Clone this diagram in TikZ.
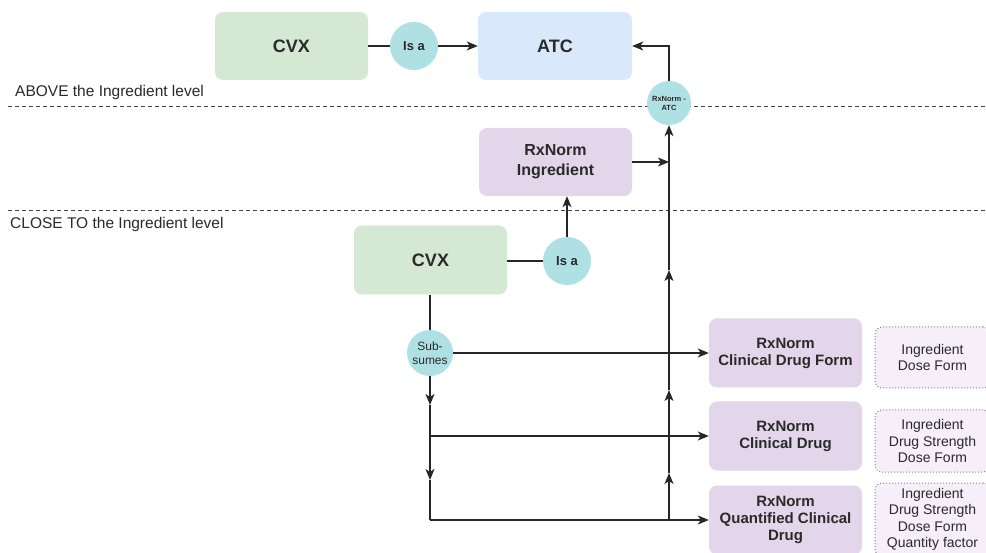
\documentclass[tikz,border=0pt]{standalone}
\usepackage{fontspec}
\setmainfont{Liberation Sans}
\usetikzlibrary{arrows.meta}
\definecolor{gfill}{HTML}{D5E8D4}
\definecolor{bfill}{HTML}{DAE8FC}
\definecolor{pfill}{HTML}{E3D6EA}
\definecolor{cfill}{HTML}{AFE0E4}
\definecolor{dfill}{HTML}{F6EEF9}
\definecolor{dline}{HTML}{8E8294}
\definecolor{txt}{HTML}{2A2A2A}
\tikzset{
  box/.style={rounded corners=8pt, minimum width=153pt, minimum height=68pt, inner sep=0pt, align=center, text=txt, font=\fontsize{15}{17}\selectfont\bfseries},
  bigbox/.style={box, font=\fontsize{18}{20}\selectfont\bfseries},
  circ/.style={circle, fill=cfill, inner sep=0pt, align=center, text=txt},
  attr/.style={rounded corners=7pt, draw=dline, dotted, line width=1pt, fill=dfill, minimum width=115pt, inner sep=0pt, align=center, text=txt, font=\fontsize{14}{16.5}\selectfont},
  conn/.style={line width=1.3pt, draw=black!85},
  arr/.style={conn, -{Stealth[length=11pt,width=9pt,inset=3pt]}},
  level/.style={dashed, dash pattern=on 4pt off 3pt, line width=0.9pt, draw=black!75},
  lbl/.style={anchor=west, inner sep=0pt, text=txt, font=\fontsize{15.5}{17}\selectfont}
}
\begin{document}
\begin{tikzpicture}[x=1pt,y=-1pt]
\clip (0,0) rectangle (986,553);
\fill[white] (0,0) rectangle (986,553);
% level lines
\coordinate (la1) at (8,106);
\coordinate (la2) at (986,106);
\coordinate (lb1) at (8,210);
\coordinate (lb2) at (986,210);
\draw[level] (la1) -- (la2);
\draw[level] (lb1) -- (lb2);
\node[lbl] (above) at (15,92) {ABOVE the Ingredient level};
\node[lbl] (close) at (10,224) {CLOSE TO the Ingredient level};
% top row
\node[bigbox, fill=gfill] (cvx1) at (291.5,46) {CVX};
\node[circ, minimum size=48pt, font=\fontsize{13}{15}\selectfont\bfseries] (isa1) at (414,46) {Is a};
\node[bigbox, fill=bfill, minimum width=154pt] (atc) at (555,46) {ATC};
\node[circ, minimum size=44pt, font=\fontsize{7.5}{9}\selectfont\bfseries] (rxatc) at (669,103) {RxNorm -\\ATC};
% ingredient
\node[box, fill=pfill, font=\fontsize{16}{20}\selectfont\bfseries] (ing) at (555.5,162) {RxNorm\\Ingredient};
% close-to row
\node[bigbox, fill=gfill, minimum height=69pt] (cvx2) at (430.5,260) {CVX};
\node[circ, minimum size=48pt, font=\fontsize{13}{15}\selectfont\bfseries] (isa2) at (567,261) {Is a};
\node[circ, minimum size=46pt, font=\fontsize{12}{14}\selectfont] (sub) at (430,353) {Sub-\\sumes};
% clinical boxes
\node[box, fill=pfill, minimum height=69pt] (cdf) at (785.5,353) {RxNorm\\Clinical Drug Form};
\node[box, fill=pfill, minimum height=69pt] (cd) at (785.5,436) {RxNorm\\Clinical Drug};
\node[box, fill=pfill, minimum height=69pt] (qcd) at (785.5,520) {RxNorm\\Quantified Clinical\\Drug};
% attribute boxes
\node[attr, minimum height=61pt] (d1) at (932.5,357.5) {Ingredient\\Dose Form};
\node[attr, minimum height=62pt] (d2) at (932.5,441) {Ingredient\\Drug Strength\\Dose Form};
\node[attr, minimum height=73pt] (d3) at (932.5,519.5) {Ingredient\\Drug Strength\\Dose Form\\Quantity factor};
% connectors top
\draw[conn] (cvx1.east) -- (isa1.west);
\draw[arr] (isa1.east) -- (atc.west);
\draw[arr] (rxatc.north) |- (atc.east);
% right vertical trunk
\coordinate (j1) at (669,162);
\coordinate (b0) at (669,520);
\coordinate (a1) at (669,473);
\coordinate (a2) at (669,390);
\coordinate (a3) at (669,270);
\draw[arr] (ing.east) -- (j1);
\draw[arr] (b0) -- (a1);
\draw[arr] (a1) -- (a2);
\draw[arr] (a2) -- (a3);
\draw[arr] (a3) -- (rxatc.south);
% close-to connectors
\draw[conn] (cvx2.east |- isa2.west) -- (isa2.west);
\draw[arr] (isa2.north) -- (ing.south -| isa2.north);
\draw[conn] (cvx2.south -| sub.north) -- (sub.north);
\draw[arr] (sub.east) -- (cdf.west);
\coordinate (l1) at (430,405);
\coordinate (l2) at (430,480);
\coordinate (m) at (430,436);
\coordinate (l3) at (430,520);
\draw[arr] (sub.south) -- (l1);
\draw[arr] (l1) -- (l2);
\draw[conn] (l2) -- (l3);
\draw[arr] (m) -- (cd.west);
\draw[arr] (l3) -- (qcd.west);
\end{tikzpicture}
\end{document}
